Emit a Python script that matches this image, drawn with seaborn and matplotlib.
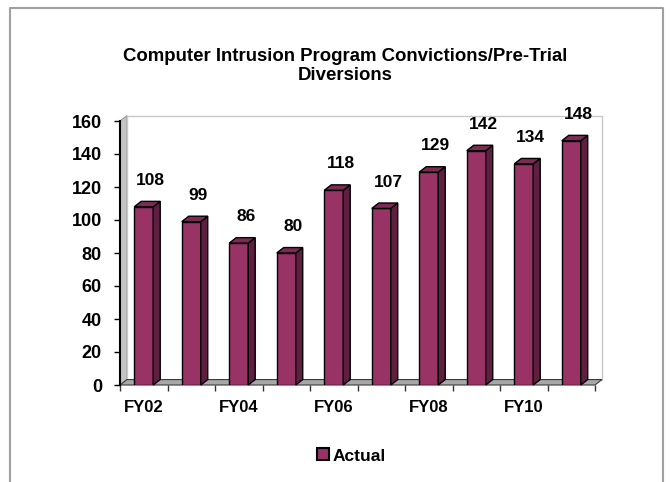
import numpy as np
import pandas as pd
import matplotlib
matplotlib.use('Agg')
import matplotlib.pyplot as plt
from matplotlib.patches import Polygon
from matplotlib.lines import Line2D
import seaborn as sns

years = ['FY02', 'FY03', 'FY04', 'FY05', 'FY06', 'FY07', 'FY08', 'FY09', 'FY10', 'FY11']
actual = [108, 99, 86, 80, 118, 107, 129, 142, 134, 148]
shown_ticks = ['FY02', 'FY04', 'FY06', 'FY08', 'FY10']
yticks = [0, 20, 40, 60, 80, 100, 120, 140, 160]

df = pd.DataFrame({'year': years, 'actual': actual})

sns.set_style('white')
plt.rcParams['font.family'] = ['Liberation Sans', 'DejaVu Sans']
plt.rcParams['font.weight'] = 'bold'
plt.rcParams['text.color'] = 'black'
plt.rcParams['xtick.color'] = 'black'
plt.rcParams['ytick.color'] = 'black'

front = '#993366'
side = '#5e1f40'
top = '#7d2a55'

fig = plt.figure(figsize=(6.7, 4.82), dpi=100)
ax = fig.add_axes([120 / 670, 97 / 482, 475 / 670, 264 / 482])

# depth of the fake 3d look, in data units
dx, dy = 0.147, 3.3

ax.set_xlim(-0.5, 9.5)
ax.set_ylim(0, 160)

# walls and floor
ax.add_patch(Polygon([(-0.5, 0), (-0.5 + dx, dy), (-0.5 + dx, 160 + dy), (-0.5, 160)],
                     closed=True, facecolor='#c4c4c4', edgecolor='#9a9a9a', lw=0.8,
                     clip_on=False, zorder=0))
ax.add_patch(Polygon([(-0.5 + dx, dy), (9.5 + dx, dy), (9.5 + dx, 160 + dy), (-0.5 + dx, 160 + dy)],
                     closed=True, facecolor='white', edgecolor='#c8c8c8', lw=1,
                     clip_on=False, zorder=0))
ax.add_patch(Polygon([(-0.5, 0), (9.5, 0), (9.5 + dx, dy), (-0.5 + dx, dy)],
                     closed=True, facecolor='#a8a8a8', edgecolor='#3a3a3a', lw=0.8,
                     clip_on=False, zorder=1))

sns.barplot(data=df, x='year', y='actual', color=front, width=0.4,
            edgecolor='black', linewidth=1, saturation=1, ax=ax, zorder=3)

for p, v in zip(ax.patches[3:], actual):
    x0, w, h = p.get_x(), p.get_width(), p.get_height()
    ax.add_patch(Polygon([(x0 + w, 0), (x0 + w + dx, dy), (x0 + w + dx, h + dy), (x0 + w, h)],
                         closed=True, facecolor=side, edgecolor='black', lw=1,
                         clip_on=False, zorder=3))
    ax.add_patch(Polygon([(x0, h), (x0 + dx, h + dy), (x0 + w + dx, h + dy), (x0 + w, h)],
                         closed=True, facecolor=top, edgecolor='black', lw=1,
                         clip_on=False, zorder=3))
    ax.annotate(str(v), (x0 + w / 2, h), xytext=(5, 19), textcoords='offset points',
                ha='center', va='center', fontsize=12.5, fontweight='bold')

sns.despine(ax=ax, top=True, right=True)
ax.spines['left'].set_color('black')
ax.spines['left'].set_linewidth(1.5)
ax.spines['bottom'].set_visible(False)
ax.set_yticks(yticks)
ax.tick_params(axis='y', left=True, length=4, width=1, pad=9, labelsize=13)

ax.set_xticks([years.index(t) for t in shown_ticks])
ax.set_xticklabels(shown_ticks)
ax.set_xticks(np.arange(-0.5, 10, 1), minor=True)
ax.tick_params(axis='x', which='major', length=0, pad=11, labelsize=12)
ax.tick_params(axis='x', which='minor', bottom=True, length=4, width=1, color='#333333')
for lab in ax.get_xticklabels() + ax.get_yticklabels():
    lab.set_fontweight('bold')
ax.set_xlabel('')
ax.set_ylabel('')

fig.text(345 / 670, 1 - 66 / 482, 'Computer Intrusion Program Convictions/Pre-Trial\nDiversions',
         ha='center', va='center', fontsize=13.4, fontweight='bold', linespacing=1.1)

handle = Line2D([], [], marker='s', linestyle='none', markersize=9,
                markerfacecolor=front, markeredgecolor='black', markeredgewidth=1.5)
fig.legend([handle], ['Actual'], loc='center', bbox_to_anchor=(350 / 670, 1 - 456 / 482),
           frameon=False, handletextpad=0.1, handlelength=1, prop={'weight': 'bold', 'size': 12.5})

# gray frame around the chart area
fig.add_artist(Line2D([10 / 670, 10 / 670, 663 / 670, 663 / 670], [0, 1 - 8 / 482, 1 - 8 / 482, 0],
                      transform=fig.transFigure, color='#a0a0a0', lw=1.5))

fig.savefig('out.png', dpi=100, facecolor='white')
